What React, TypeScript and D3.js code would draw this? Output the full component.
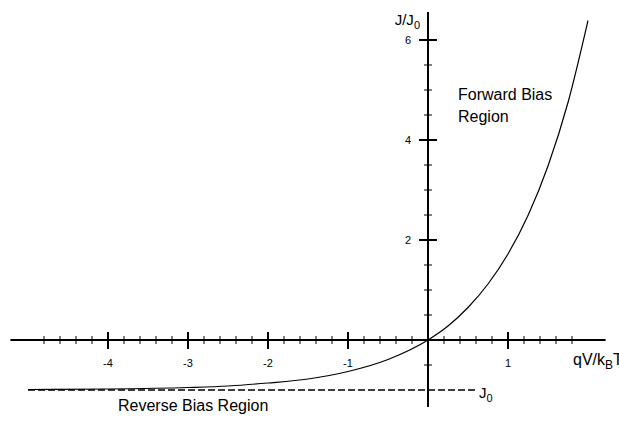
import { useEffect, useRef } from 'react'
import * as d3 from 'd3'

// values
const voltage = [-5, -4, -3, -2.5, -2, -1.5, -1, -0.5, 0, 0.25, 0.5, 0.75, 1, 1.25, 1.5, 1.75, 2]
const current = [-0.99, -0.98, -0.95, -0.92, -0.86, -0.78, -0.63, -0.39, 0, 0.28, 0.65, 1.12, 1.72, 2.49, 3.48, 4.75, 6.39]

const xLabels = [-4, -3, -2, -1, 1]
const yLabels = [2, 4, 6]
const xAxisExtent = [-5.22, 2.22]
const yAxisExtent = [-1.34, 6.56]
const saturation = -1
const saturationExtent = [-5, 0.6]

const App = () => {
  const chart = useRef<SVGSVGElement | null>(null)

  useEffect(() => {
    const width = 619
    const height = 422
    const font = "'Liberation Sans', Arial, Helvetica, sans-serif"

    const svg = d3.select(chart.current)
    svg.selectAll('*').remove()
    svg.attr('width', width).attr('height', height)

    const x = d3.scaleLinear().domain([-5, 2]).range([28, 588])
    const y = d3.scaleLinear().domain([-1, 6]).range([390, 40])

    // minor ticks
    const xMinor = d3.range(-4.8, 1.81, 0.2).filter(v => Math.abs(v - Math.round(v)) > 0.01)
    const yMinor = d3.range(-0.5, 6.01, 0.5).filter(v => !yLabels.includes(v) && v !== 0)

    const g = svg.append('g')

    // x axis
    g.append('line')
      .attr('x1', x(xAxisExtent[0])).attr('x2', x(xAxisExtent[1]))
      .attr('y1', y(0)).attr('y2', y(0))
      .attr('stroke', '#000').attr('stroke-width', 2)
    g.selectAll('.xminor').data(xMinor).enter().append('line')
      .attr('x1', d => x(d)).attr('x2', d => x(d))
      .attr('y1', y(0) - 4).attr('y2', y(0) + 4)
      .attr('stroke', '#000').attr('stroke-width', 1)
    g.selectAll('.xmajor').data(xLabels).enter().append('line')
      .attr('x1', d => x(d)).attr('x2', d => x(d))
      .attr('y1', y(0) - 8).attr('y2', y(0) + 9)
      .attr('stroke', '#000').attr('stroke-width', 2)
    g.selectAll('.xlabel').data(xLabels).enter().append('text')
      .attr('x', d => x(d)).attr('y', y(0) + 27)
      .attr('text-anchor', 'middle')
      .attr('font-family', font).attr('font-size', 11)
      .text(d => String(d))

    // y axis
    g.append('line')
      .attr('x1', x(0)).attr('x2', x(0))
      .attr('y1', y(yAxisExtent[0])).attr('y2', y(yAxisExtent[1]))
      .attr('stroke', '#000').attr('stroke-width', 2)
    g.selectAll('.yminor').data(yMinor).enter().append('line')
      .attr('x1', x(0) - 4).attr('x2', x(0) + 4)
      .attr('y1', d => y(d)).attr('y2', d => y(d))
      .attr('stroke', '#000').attr('stroke-width', 1)
    g.selectAll('.ymajor').data(yLabels).enter().append('line')
      .attr('x1', x(0) - 9).attr('x2', x(0) + 9)
      .attr('y1', d => y(d)).attr('y2', d => y(d))
      .attr('stroke', '#000').attr('stroke-width', 2)
    g.selectAll('.ylabel').data(yLabels).enter().append('text')
      .attr('x', x(0) - 17).attr('y', d => y(d) + 4)
      .attr('text-anchor', 'end')
      .attr('font-family', font).attr('font-size', 11)
      .text(d => String(d))

    // saturation current J0
    g.append('line')
      .attr('x1', x(saturationExtent[0])).attr('x2', x(saturationExtent[1]))
      .attr('y1', y(saturation)).attr('y2', y(saturation))
      .attr('stroke', '#000').attr('stroke-width', 1.5)
      .attr('stroke-dasharray', '7,3')

    // curve
    const line = d3.line<number>()
      .x((_, i) => x(voltage[i]))
      .y(d => y(d))
      .curve(d3.curveMonotoneX)
    g.append('path')
      .datum(current)
      .attr('d', line)
      .attr('fill', 'none')
      .attr('stroke', '#000')
      .attr('stroke-width', 1.2)

    // labels
    const j0 = g.append('text')
      .attr('x', x(saturationExtent[1]) + 3).attr('y', y(saturation) + 8)
      .attr('font-family', font).attr('font-size', 15)
    j0.append('tspan').text('J')
    j0.append('tspan').attr('font-size', 11).attr('dy', 4).text('0')

    const yTitle = g.append('text')
      .attr('x', x(0) - 8).attr('y', 25)
      .attr('text-anchor', 'end')
      .attr('font-family', font).attr('font-size', 15)
    yTitle.append('tspan').text('J/J')
    yTitle.append('tspan').attr('font-size', 11).attr('dy', 4).text('0')

    const xTitle = g.append('text')
      .attr('x', 573).attr('y', y(0) + 25)
      .attr('font-family', font).attr('font-size', 16)
    xTitle.append('tspan').text('qV/k')
    xTitle.append('tspan').attr('font-size', 12).attr('dy', 4).text('B')
    xTitle.append('tspan').attr('dy', -4).text('T')

    g.append('text')
      .attr('x', 458).attr('y', 100)
      .attr('font-family', font).attr('font-size', 16)
      .text('Forward Bias')
    g.append('text')
      .attr('x', 458).attr('y', 122)
      .attr('font-family', font).attr('font-size', 16)
      .text('Region')
    g.append('text')
      .attr('x', 118).attr('y', 411)
      .attr('font-family', font).attr('font-size', 16)
      .text('Reverse Bias Region')
  }, [])

  return (
    <svg ref={chart} style={{ position: 'absolute', left: 0, top: 0, background: '#fff' }}></svg>
  )
}

export default App
